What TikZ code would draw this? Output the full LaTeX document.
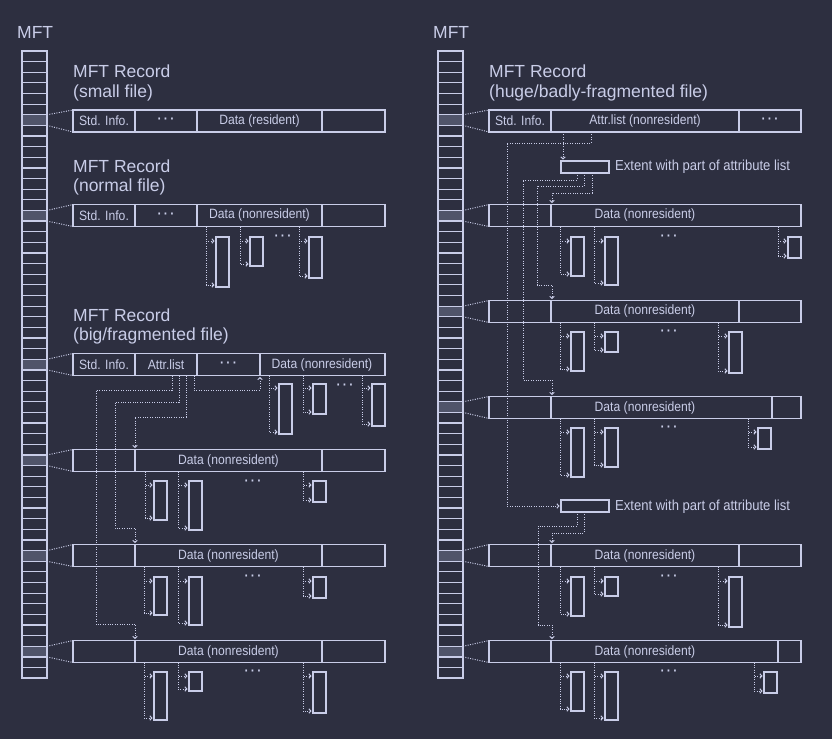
\documentclass[tikz,border=0pt]{standalone}
\usepackage{fontspec}
\setmainfont{Liberation Sans}
\newfontfamily\cellfont[FakeStretch=0.9]{Liberation Sans}
\usetikzlibrary{arrows.meta, positioning}
\definecolor{bg}{HTML}{2D2F40}
\definecolor{fg}{HTML}{C9CDE8}
\definecolor{hl}{HTML}{50546A}
\newcommand\mdots{{\bfseries ·\,·\,·}}
\def\hc{10.63}
\tikzset{
  frame/.style={draw=fg, line width=1.2pt},
  rec/.style={frame, anchor=west, inner sep=0pt, outer sep=0pt, minimum width=312pt, minimum height=22pt},
  ext/.style={frame, anchor=north west, inner sep=0pt, outer sep=0pt, minimum width=13pt},
  txt/.style={text=fg, font=\cellfont\fontsize{13.5}{15}\selectfont, inner sep=0pt},
  title/.style={text=fg, font=\fontsize{17.5}{20}\selectfont, anchor=west, inner sep=0pt},
  link/.style={draw=fg, line width=1pt, dash pattern=on 1pt off 1.4pt},
  ptr/.style={link, -{Straight Barb[length=2pt,width=4.5pt]}, shorten >=1.5pt}
}
% record: name, position, dividers, labels
\newcommand\record[4]{%
  \node[rec] (#1) at (#2) {};
  \foreach \d in {#3} \draw[frame] ([xshift=\d pt]#1.north west) -- ([xshift=\d pt]#1.south west);
  \foreach \x/\t in {#4} \node[txt] at ([xshift=\x pt]#1.west) {\t};
}
% extent: record, name, bracket x, box x, top, bottom
\newcommand\extent[6]{%
  \node[ext, minimum height={(#6-#5)*1pt}] (#2) at (#4,#5) {};
  \coordinate (#2-s) at (#3,0 |- #1.south);
  \draw[ptr] (#2-s) |- ([yshift=-4pt]#2.north west);
  \draw[ptr] (#2-s) |- ([yshift=2pt]#2.south west);
}
\begin{document}
\begin{tikzpicture}[x=1pt,y=-1pt]
\useasboundingbox[fill=bg] (0,0) rectangle (832,739);

% titles
\node[title] (mftL) at (17,32) {MFT};
\node[title] (mftR) at (433,32) {MFT};
\node[title] (t1a) at (73,71) {MFT Record};
\node[title] (t1b) at (73,93) {(small file)};
\node[title] (t2a) at (73,166) {MFT Record};
\node[title] (t2b) at (73,187) {(normal file)};
\node[title] (t3a) at (73,315) {MFT Record};
\node[title] (t3b) at (73,336) {(big/fragmented file)};
\node[title] (t4a) at (489,71) {MFT Record};
\node[title] (t4b) at (489,93) {(huge/badly-fragmented file)};

% left records
\record{sm}{73,121}{62,124,249}{31/Std. Info.,93/\mdots,186.5/Data (resident)}
\record{nm}{73,215.5}{62,124,249}{31/Std. Info.,93/\mdots,186.5/Data (nonresident)}
\record{bg}{73,364.5}{62,124,187}{31/Std. Info.,93/Attr.list,155.5/\mdots,249/Data (nonresident)}
\record{ba}{73,460.5}{62,249}{155.5/Data (nonresident)}
\record{bb}{73,555.5}{62,249}{155.5/Data (nonresident)}
\record{bc}{73,651.5}{62,249}{155.5/Data (nonresident)}

% right records
\record{hg}{489,121}{62,250}{31/Std. Info.,156/Attr.list (nonresident),281/\mdots}
\record{ha}{489,215.5}{62}{156/Data (nonresident)}
\record{hb}{489,311.5}{62,250}{156/Data (nonresident)}
\record{hc}{489,407.5}{62,283}{156/Data (nonresident)}
\record{hd}{489,555.5}{62,250}{156/Data (nonresident)}
\record{he}{489,651.5}{62,289}{156/Data (nonresident)}

% MFT columns
\foreach \x/\ks in {22/{6/sm,15/nm,29/bg,38/ba,47/bb,56/bc},438/{6/hg,15/ha,24/hb,33/hc,47/hd,56/he}}{
  \foreach \k/\r in \ks {
    \fill[hl] (\x,{51+\k*\hc}) rectangle (\x+25,{51+(\k+1)*\hc});
    \draw[link] (\x+25,{51+\k*\hc}) -- (\r.north west);
    \draw[link] (\x+25,{51+(\k+1)*\hc}) -- (\r.south west);
  }
  \draw[frame] (\x,51) rectangle (\x+25,678);
  \foreach \i in {1,...,58} \draw[frame] (\x,{51+\i*\hc}) -- (\x+25,{51+\i*\hc});
}

% extents, left
\extent{nm}{nm1}{206}{216}{237}{287}
\extent{nm}{nm2}{240}{250}{237}{266}
\extent{nm}{nm3}{299}{309}{237}{278}
\node[txt] (nm-d) at (283,238) {\mdots};
\extent{bg}{bg1}{269}{279}{384}{434}
\extent{bg}{bg2}{303}{313}{384}{414}
\extent{bg}{bg3}{362}{372}{384}{426}
\node[txt] (bg-d) at (345,387) {\mdots};
\extent{ba}{ba1}{145}{154}{481}{520}
\extent{ba}{ba2}{178}{189}{481}{530}
\extent{ba}{ba3}{303}{313}{481}{502}
\node[txt] (ba-d) at (253,483) {\mdots};
\extent{bb}{bb1}{144}{154}{577}{615}
\extent{bb}{bb2}{178}{189}{577}{625}
\extent{bb}{bb3}{303}{313}{577}{598}
\node[txt] (bb-d) at (253,578) {\mdots};
\extent{bc}{bc1}{144}{154}{672}{720}
\extent{bc}{bc2}{178}{189}{672}{691}
\extent{bc}{bc3}{303}{313}{672}{713}
\node[txt] (bc-d) at (253,673) {\mdots};

% extents, right
\extent{ha}{ha1}{560}{571}{237}{276}
\extent{ha}{ha2}{594}{605}{237}{285}
\extent{ha}{ha3}{778}{788}{237}{258}
\node[txt] (ha-d) at (669,238) {\mdots};
\extent{hb}{hb1}{560}{571}{332}{371}
\extent{hb}{hb2}{594}{605}{332}{352}
\extent{hb}{hb3}{718}{729}{332}{373}
\node[txt] (hb-d) at (669,333) {\mdots};
\extent{hc}{hc1}{560}{571}{428}{477}
\extent{hc}{hc2}{594}{605}{428}{467}
\extent{hc}{hc3}{748}{758}{428}{449}
\node[txt] (hc-d) at (669,429) {\mdots};
\extent{hd}{hd1}{560}{571}{577}{616}
\extent{hd}{hd2}{594}{605}{577}{596}
\extent{hd}{hd3}{718}{729}{577}{627}
\node[txt] (hd-d) at (669,578) {\mdots};
\extent{he}{he1}{560}{571}{672}{711}
\extent{he}{he2}{594}{605}{672}{720}
\extent{he}{he3}{754}{764}{672}{693}
\node[txt] (he-d) at (669,673) {\mdots};

% attribute list pointers, left
\coordinate (al1) at (172,0 |- bg.south);
\coordinate (al2) at (179,0 |- bg.south);
\coordinate (al3) at (186,0 |- bg.south);
\coordinate (al4) at (194,0 |- bg.south);
\draw[ptr] (al1) |- (96,390) |- (135,624) -- (135,0 |- bc.north);
\draw[ptr] (al2) |- (115,402) |- (135,528) -- (135,0 |- bb.north);
\draw[ptr] (al3) |- (135,417) -- (135,0 |- ba.north);
\draw[ptr] (al4) |- (260,390) -- (260,0 |- bg.south);

% attribute list extents, right
\node[ext, minimum width=48pt, minimum height=12pt] (x1) at (561,161) {};
\node[ext, minimum width=48pt, minimum height=12pt] (x2) at (561,500) {};
\node[txt, anchor=west, font=\cellfont\fontsize{14.5}{16}\selectfont] (x1-l) at (615,167) {Extent with part of attribute list};
\node[txt, anchor=west, font=\cellfont\fontsize{14.5}{16}\selectfont] (x2-l) at (615,507) {Extent with part of attribute list};
\coordinate (hl1) at (591,0 |- hg.south);
\coordinate (hl2) at (563,0 |- hg.south);
\draw[ptr] (hl1) |- (507,143) |- (x2.west);
\draw[ptr] (hl2) -- (563,0 |- x1.north);
\coordinate (xa) at (577,0 |- x1.south);
\coordinate (xb) at (584,0 |- x1.south);
\coordinate (xc) at (592,0 |- x1.south);
\draw[ptr] (xa) |- (523,180) |- (552,380) -- (552,0 |- hc.north);
\draw[ptr] (xb) |- (537,186) |- (552,285) -- (552,0 |- hb.north);
\draw[ptr] (xc) |- (552,193) -- (552,0 |- ha.north);
\coordinate (xd) at (577,0 |- x2.south);
\coordinate (xe) at (584,0 |- x2.south);
\draw[ptr] (xd) |- (538,526) |- (552,625) -- (552,0 |- he.north);
\draw[ptr] (xe) |- (552,533) -- (552,0 |- hd.north);
\end{tikzpicture}
\end{document}
